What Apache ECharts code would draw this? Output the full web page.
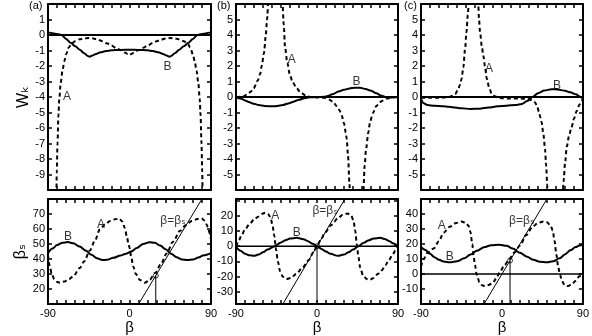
<!DOCTYPE html>
<html>
<head>
<meta charset="utf-8">
<script src="https://cdn.jsdelivr.net/npm/echarts@6/dist/echarts.min.js"></script>
<style>
html, body { margin: 0; padding: 0; background: #fff; }
#chart { width: 592px; height: 336px; }
</style>
</head>
<body>
<div id="chart"></div>
<script>
// ---- data: [beta, value] ----
// top row: Wk
var wkA_a = [[-81.5,-13],[-80.8,-10.5],[-80.3,-8.8],[-79.5,-7],[-78.5,-5.2],[-77.5,-4.1],[-76,-3.1],[-74,-2.3],[-72,-1.7],[-70,-1.25],[-67,-0.8],[-64,-0.55],[-60,-0.4],[-55,-0.28],[-50,-0.22],[-45,-0.2],[-40,-0.22],[-35,-0.3],[-30,-0.4],[-25,-0.54],[-20,-0.68],[-15,-0.83],[-10,-0.97],[-5,-1.13],[-2,-1.23],[0,-1.3],
  [2,-1.23],[5,-1.13],[10,-0.97],[15,-0.83],[20,-0.68],[25,-0.54],[30,-0.4],[35,-0.3],[40,-0.22],[45,-0.2],[50,-0.22],[55,-0.28],[60,-0.4],[64,-0.55],[67,-0.8],[70,-1.25],[72,-1.7],[74,-2.3],[76,-3.1],[77.5,-4.1],[78.5,-5.2],[79.5,-7],[80.3,-8.8],[80.8,-10.5],[81.5,-13]];
var wkB_a = [[-90,0.17],[-85,0.12],[-80,0.06],[-75,0],[-70,-0.25],[-65,-0.5],[-60,-0.72],[-55,-0.95],[-50,-1.18],[-46,-1.36],[-44,-1.4],[-41,-1.33],[-37,-1.22],[-32,-1.12],[-26,-1.04],[-20,-0.99],[-10,-0.96],[0,-0.95],
  [10,-0.96],[20,-0.99],[26,-1.04],[32,-1.12],[37,-1.22],[41,-1.33],[44,-1.4],[46,-1.36],[50,-1.18],[55,-0.95],[60,-0.72],[65,-0.5],[70,-0.25],[75,0],[80,0.06],[85,0.12],[90,0.17]];
var wkA_b = [[-90,0],[-82,0.03],[-78,0.15],[-74,0.32],[-70.5,0.55],[-66,1.05],[-63,1.5],[-61.5,2.0],[-59,2.8],[-57,3.9],[-55.5,5.0],[-54,6.3],[-52,9],[-49,14],[-46,18],[-43,14],[-40.5,8.5],[-38.5,6.2],[-37,4.7],[-35.5,3.2],[-33,2.2],[-30,1.4],[-27,0.95],[-22.5,0.55],[-18,0.28],[-12,0.08],[-7,0],[0,-0.03],[8,-0.05],[14,-0.18],[18,-0.34],[22,-0.6],[25,-0.85],[27.5,-1.2],[30,-1.7],[32,-2.3],[33,-2.7],[34.5,-3.8],[36,-5.5],[37,-7],[39,-10],[44,-18],[49,-10],[51.4,-6.2],[53,-4.4],[54.5,-3.35],[57,-2.3],[59,-1.6],[62,-1.05],[66,-0.58],[70,-0.32],[77,-0.1],[85,-0.02],[90,0]];
var wkB_b = [[-90,0],[-85,-0.1],[-80,-0.22],[-75,-0.34],[-70,-0.44],[-65,-0.52],[-58,-0.58],[-50,-0.6],[-44,-0.58],[-38,-0.52],[-32,-0.42],[-26,-0.3],[-20,-0.18],[-14,-0.08],[-8,-0.02],[0,0],[8,0.01],[12,0.06],[18,0.2],[24,0.35],[30,0.47],[36,0.55],[42,0.6],[48,0.59],[54,0.52],[60,0.4],[66,0.24],[71,0.1],[76,0],[80,-0.03],[85,-0.02],[90,0]];
var wkA_c = [[-90,-0.05],[-80,-0.05],[-70,-0.05],[-60,-0.02],[-55,0.08],[-52,0.2],[-49,0.45],[-47,0.75],[-45,1.16],[-43,1.9],[-41,3.1],[-39.5,4.2],[-38,5.3],[-36.7,6.3],[-34,10],[-32,14],[-29.5,10],[-27.5,7.2],[-26.5,6.1],[-25.5,5.0],[-24.4,4.2],[-22.5,3.3],[-20.7,2.66],[-19,2.0],[-17,1.2],[-14,0.55],[-11.4,0.2],[-8,0.05],[-5,0],[0,-0.08],[10,-0.1],[20,-0.1],[28,-0.12],[33,-0.2],[36.7,-0.34],[39,-0.6],[41,-0.95],[42.5,-1.3],[44,-1.63],[46,-2.4],[47.8,-3.35],[49,-4.4],[50.3,-5.7],[51,-6.3],[54,-10],[59.5,-15],[65,-10],[67.5,-6.3],[68.5,-5.4],[70,-4.3],[72,-3.2],[74.5,-2.5],[77,-2.0],[80,-1.4],[83,-0.9],[86,-0.5],[88,-0.3],[90,-0.1]];
var wkB_c = [[-90,-0.1],[-87,-0.4],[-83,-0.52],[-75,-0.57],[-65,-0.6],[-55,-0.66],[-45,-0.73],[-35,-0.77],[-25,-0.75],[-15,-0.68],[-5,-0.6],[5,-0.56],[15,-0.52],[22,-0.45],[28,-0.25],[34,0],[40,0.25],[47,0.42],[55,0.5],[62,0.49],[70,0.4],[76,0.3],[82,0.17],[87,0.02],[90,-0.1]];

// bottom row: beta_s
var bsA_a = [[-90,42.6],[-88,35],[-86,30.5],[-83,26.5],[-80,24.8],[-77,24.3],[-72,25],[-67,26.5],[-62,28.6],[-55,34],[-50,38.5],[-44,45.5],[-38,52.5],[-32.6,60],[-27,63],[-21.5,65.3],[-16,66.5],[-11.3,67],[-8,65],[-5,60.5],[-3,55],[-1,50],[0,47.5],[2,41],[4.2,35],[7,30],[11.6,26],[17,24.3],[22,26],[28.2,30.7],[35,37],[41,43.7],[48,51.5],[55.8,58.8],[62,62.5],[68.7,65.3],[75,66.7],[79.7,67],[83,65.5],[85.2,63],[87,60],[88.9,56.7],[90,53]];
var bsB_a = [[-90,44],[-85,47],[-80,49.3],[-74,50.8],[-68,51.3],[-62,50.5],[-55,48.3],[-48,45.5],[-42,42.8],[-36,40.5],[-30,39.3],[-25,39.5],[-18,40.8],[-10,42.3],[-4,43.6],[2,45],[8,47.3],[15,50],[22,51.2],[28,50.8],[34,49],[40,46.5],[46,43.5],[52,41.2],[58,39.7],[64,39.3],[70,39.7],[76,41],[82,42.5],[90,44]];
var bsA_b = [[-90,0],[-87,3.5],[-84,7],[-80,11],[-75,14.5],[-70,17.5],[-65,19.5],[-61,21.3],[-57.5,22],[-54,21],[-51.5,18.5],[-49.5,14],[-47.5,7],[-45.5,-2],[-43.5,-10],[-41,-16.5],[-38,-20],[-34,-21.5],[-29,-20.8],[-23,-18.2],[-16,-14],[-9,-9],[-4,-4],[0,0],[4,4],[9,9],[16,14],[23,18.2],[29,20.8],[34,21.5],[38,20],[40.5,17],[42.5,10],[44.3,1],[46,-7],[48,-14],[51,-19],[55,-21.5],[58.5,-22],[63,-20.8],[68,-18],[72,-15.8],[76,-12.5],[80,-9],[84,-5.5],[87,-3],[90,0]];
var bsB_b = [[-90,-0.5],[-85,-3],[-80,-5],[-75,-6],[-70,-6.3],[-65,-5.5],[-60,-4],[-55,-2.2],[-47,0],[-40,2.5],[-35,4],[-30,5],[-22.5,5.5],[-15,4.6],[-10,3.3],[-5,1.6],[0,0],[5,-1.8],[10,-3.5],[15,-5],[23,-6.3],[30,-5.5],[35,-4],[40,-2.2],[46,0],[52,2.3],[57,3.8],[63,5],[70,5.5],[76,4.6],[80,3.5],[85,1.8],[90,0]];
var bsA_c = [[-90,5],[-87,10],[-83,14],[-76,17],[-70,22],[-65,27.5],[-58,31.5],[-51,34],[-45,35],[-40,34],[-37,32],[-35,28],[-33,20],[-31.5,12],[-30,6],[-28,-0.5],[-25,-5.5],[-22,-7.5],[-19,-8],[-15,-7.3],[-10,-5.8],[-6,-2.5],[-2,1.8],[3,6],[8,9.9],[14,14.5],[20,19],[27,26],[34,31.5],[40,34],[46,35],[50,34.5],[54,32.5],[56.5,29],[58.5,22],[60.5,13],[62.5,5],[64.5,-0.5],[67,-5],[70,-7.5],[73.5,-8],[78,-6.5],[82,-4.5],[86,-1.5],[90,1]];
var bsB_c = [[-90,18],[-85,16],[-80,13.5],[-75,11.2],[-70,9.5],[-65,8.3],[-58,7.8],[-50,8.5],[-42,10.5],[-35,13],[-28,15.5],[-20,17.8],[-12,19.2],[-3,19.5],[5,18.8],[12,17],[20,14.2],[28,11.5],[35,9.5],[42,8.2],[50,7.8],[57,8.5],[64,10.5],[70,13],[76,15.8],[82,18],[86,19],[90,19.3]];

// axis ranges, tick steps and tick labels
var yRange = [[-10, 2], [-6, 6], [-6, 6], [10, 80], [-38, 31], [-20, 50]];
var yStep = [1, 1, 1, 10, null, 10];
var yTickLabels = [
  [-9, -8, -7, -6, -5, -4, -3, -2, -1, 0, 1],
  [-5, -4, -3, -2, -1, 0, 1, 2, 3, 4, 5],
  [-5, -4, -3, -2, -1, 0, 1, 2, 3, 4, 5],
  [20, 30, 40, 50, 60, 70],
  [-30, -20, -10, 0, 10, 20],
  [-10, 0, 10, 20, 30, 40]
];
var xTickLabels = [-90, 0, 90];
var panelNames = ['(a)', '(b)', '(c)'];

var zeroLine = [[-90, 0], [90, 0]];
var identityLine = [[-90, -90], [90, 90]];
var crossBeta = [29, 0, 9];     // where curve A meets beta = beta_s (bottom a, b, c)

// text labels on the curves: [panel, beta, value, text]
var notes = [
  [0, -69, -4, 'A'], [0, 42, -2.05, 'B'],
  [1, -28, 2.4, 'A'], [1, 44, 1.0, 'B'],
  [2, -14.5, 1.85, 'A'], [2, 61, 0.7, 'B'],
  [3, -31.5, 62.7, 'A'], [3, -68, 55, 'B'], [3, 48, 65.7, 'β=βₛ'],
  [4, -46.5, 20.2, 'A'], [4, -22.5, 8.6, 'B'], [4, 9, 23.4, 'β=βₛ'],
  [5, -67, 32, 'A'], [5, -58, 11.5, 'B'], [5, 22, 35.3, 'β=βₛ']
];

var curvesA = [wkA_a, wkA_b, wkA_c, bsA_a, bsA_b, bsA_c];
var curvesB = [wkB_a, wkB_b, wkB_c, bsB_a, bsB_b, bsB_c];

var boxes = [
  { left: 48, top: 4, width: 163, height: 186 },
  { left: 236, top: 4, width: 162, height: 186 },
  { left: 421, top: 4, width: 162, height: 186 },
  { left: 48, top: 199, width: 163, height: 108 },
  { left: 236, top: 199, width: 162, height: 108 },
  { left: 421, top: 199, width: 162, height: 108 }
];
var titleLeft = [29, 217, 404];

var font = 'Liberation Sans, DejaVu Sans, sans-serif';
var grid = [], xAxis = [], yAxis = [], series = [], titles = [];

// axes go on their own canvas layer, above the curves
function mkLine() { return { show: true, onZero: false, lineStyle: { color: '#000', width: 2 } }; }
function mkTick() { return { show: true, inside: true, length: 4, lineStyle: { color: '#000', width: 1.5 } }; }

boxes.forEach(function (b, i) {
  grid.push({ left: b.left, top: b.top, width: b.width, height: b.height });
  var bottomRow = i >= 3;
  var xb = {
    gridIndex: i, type: 'value', min: -90, max: 90, interval: 10, position: 'bottom', zlevel: 1, z: 10,
    axisLine: mkLine(), axisTick: mkTick(), splitLine: { show: false },
    axisLabel: { show: bottomRow, customValues: xTickLabels, margin: 4, color: '#000', fontSize: 11, fontFamily: font }
  };
  if (bottomRow) {
    xb.name = 'β';
    xb.nameLocation = 'middle';
    xb.nameGap = 12;
    xb.nameTextStyle = { color: '#000', fontSize: 15, fontFamily: font };
  }
  xAxis.push(xb);
  xAxis.push({
    gridIndex: i, type: 'value', min: -90, max: 90, interval: 10, position: 'top', zlevel: 1, z: 10,
    axisLine: mkLine(), axisTick: mkTick(), splitLine: { show: false }, axisLabel: { show: false }
  });
  var yl = {
    gridIndex: i, type: 'value', min: yRange[i][0], max: yRange[i][1], position: 'left', zlevel: 1, z: 10,
    axisLine: mkLine(), axisTick: mkTick(), splitLine: { show: false },
    axisLabel: { customValues: yTickLabels[i], margin: 3, color: '#000', fontSize: 11, fontFamily: font }
  };
  if (i === 0 || i === 3) {
    yl.name = i === 0 ? 'Wₖ' : 'βₛ';
    yl.nameLocation = 'middle';
    yl.nameRotate = 90;
    yl.nameGap = 15;
    yl.nameTextStyle = { color: '#000', fontSize: 16, fontFamily: font };
  }
  var yr = {
    gridIndex: i, type: 'value', min: yRange[i][0], max: yRange[i][1], position: 'right', zlevel: 1, z: 10,
    axisLine: mkLine(), axisTick: mkTick(), splitLine: { show: false }, axisLabel: { show: false }
  };
  if (yStep[i]) { yl.interval = yStep[i]; yr.interval = yStep[i]; }
  else { yl.splitNumber = 6; yr.splitNumber = 6; }
  yAxis.push(yl, yr);

  if (!bottomRow) {
    titles.push({ text: panelNames[i], left: titleLeft[i], top: 0, padding: 0, zlevel: 1,
      textStyle: { fontSize: 11, fontWeight: 'normal', fontFamily: font, color: '#000' } });
  }

  var xi = i * 2, yi = i * 2;
  if (yRange[i][0] < 0 && yRange[i][1] > 0) {
    series.push({ type: 'line', xAxisIndex: xi, yAxisIndex: yi, data: zeroLine, symbol: 'none',
      lineStyle: { color: '#000', width: bottomRow ? 1.6 : 2 } });
  }
  series.push({ type: 'line', xAxisIndex: xi, yAxisIndex: yi, data: curvesA[i], symbol: 'none',
    smooth: 0.3, smoothMonotone: 'x',
    lineStyle: { color: '#000', width: 2, type: [4, 3] } });
  series.push({ type: 'line', xAxisIndex: xi, yAxisIndex: yi, data: curvesB[i], symbol: 'none',
    smooth: 0.3, smoothMonotone: 'x',
    lineStyle: { color: '#000', width: 2 } });
  if (bottomRow) {
    var c = crossBeta[i - 3];
    series.push({ type: 'line', xAxisIndex: xi, yAxisIndex: yi, data: identityLine, symbol: 'none',
      lineStyle: { color: '#000', width: 1 } });
    series.push({ type: 'line', xAxisIndex: xi, yAxisIndex: yi, data: [[c, c], [c, yRange[i][0]]], symbol: 'none',
      lineStyle: { color: '#000', width: 1 } });
    series.push({ type: 'scatter', xAxisIndex: xi, yAxisIndex: yi, data: [[c, c]], symbol: 'circle', symbolSize: 5,
      itemStyle: { color: '#fff', borderColor: '#000', borderWidth: 1 } });
  }
  var mine = notes.filter(function (n) { return n[0] === i; }).map(function (n) {
    return { value: [n[1], n[2]], name: n[3] };
  });
  series.push({
    type: 'scatter', xAxisIndex: xi, yAxisIndex: yi, symbolSize: 0,
    data: mine,
    label: { show: true, position: 'inside', formatter: '{b}', color: '#000', fontSize: 12, fontFamily: font }
  });
});

var chart = echarts.init(document.getElementById('chart'));
chart.setOption({
  animation: false,
  backgroundColor: '#fff',
  title: titles,
  grid: grid,
  xAxis: xAxis,
  yAxis: yAxis,
  series: series
});
</script>
</body>
</html>
